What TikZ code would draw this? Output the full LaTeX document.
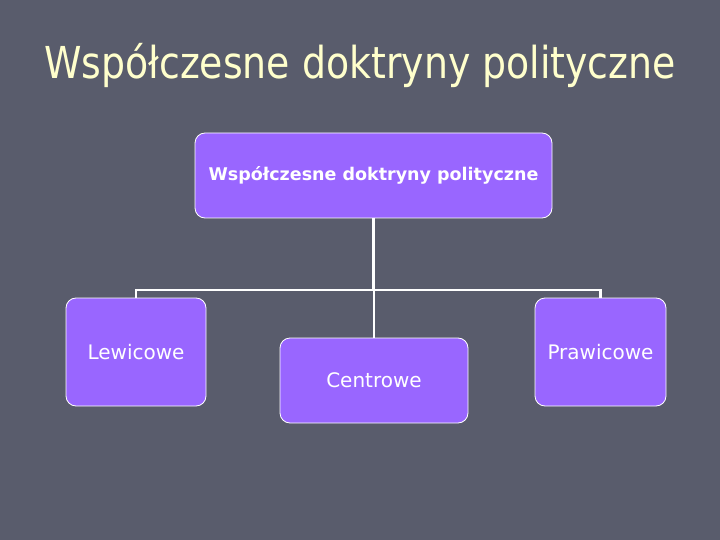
\documentclass[tikz,border=0pt]{standalone}
\usepackage{fontspec}
\setmainfont{DejaVu Sans}
\newfontfamily\titlefont{DejaVu Sans}[FakeStretch=0.86]
\usepackage{tikz}
\usetikzlibrary{positioning, calc}
\definecolor{slidebg}{RGB}{89,92,108}
\definecolor{boxfill}{RGB}{153,102,255}
\definecolor{titlecol}{RGB}{255,255,204}

\begin{document}
\begin{tikzpicture}[
        x=1pt, y=-1pt,
        box/.style={draw=white, rounded corners=10pt, fill=boxfill, text=white, line width=0.8pt, align=center, inner sep=0pt},
        leaf/.style={box, font=\fontsize{20}{24}\selectfont},
        conn/.style={draw=white, line width=2.4pt}
    ]

    % slide background
    \fill[slidebg] (0,0) rectangle (720,540);
    \useasboundingbox (0,0) rectangle (720,540);

    \node[text=titlecol, font=\titlefont\fontsize{44}{48}\selectfont] (title) at (360,65) {Współczesne doktryny polityczne};

    \node[box, minimum width=357pt, minimum height=85pt, font=\bfseries\fontsize{17.5}{20}\selectfont] (root) at (373.5,175.5) {Współczesne doktryny polityczne};
    \node[leaf, minimum width=140pt, minimum height=108pt] (lew) at (136,352) {Lewicowe};
    \node[leaf, minimum width=188pt, minimum height=85pt] (centr) at (374,380.5) {Centrowe};
    \node[leaf, minimum width=131pt, minimum height=108pt] (praw) at (600.5,352) {Prawicowe};

    \coordinate (bus) at (373.5,290);

    \draw[conn] (root.south) -- (bus);
    \draw[conn] (lew.north) |- (bus) -| (praw.north);
    \draw[conn] (centr.north |- bus) -- (centr.north);

\end{tikzpicture}
\end{document}
